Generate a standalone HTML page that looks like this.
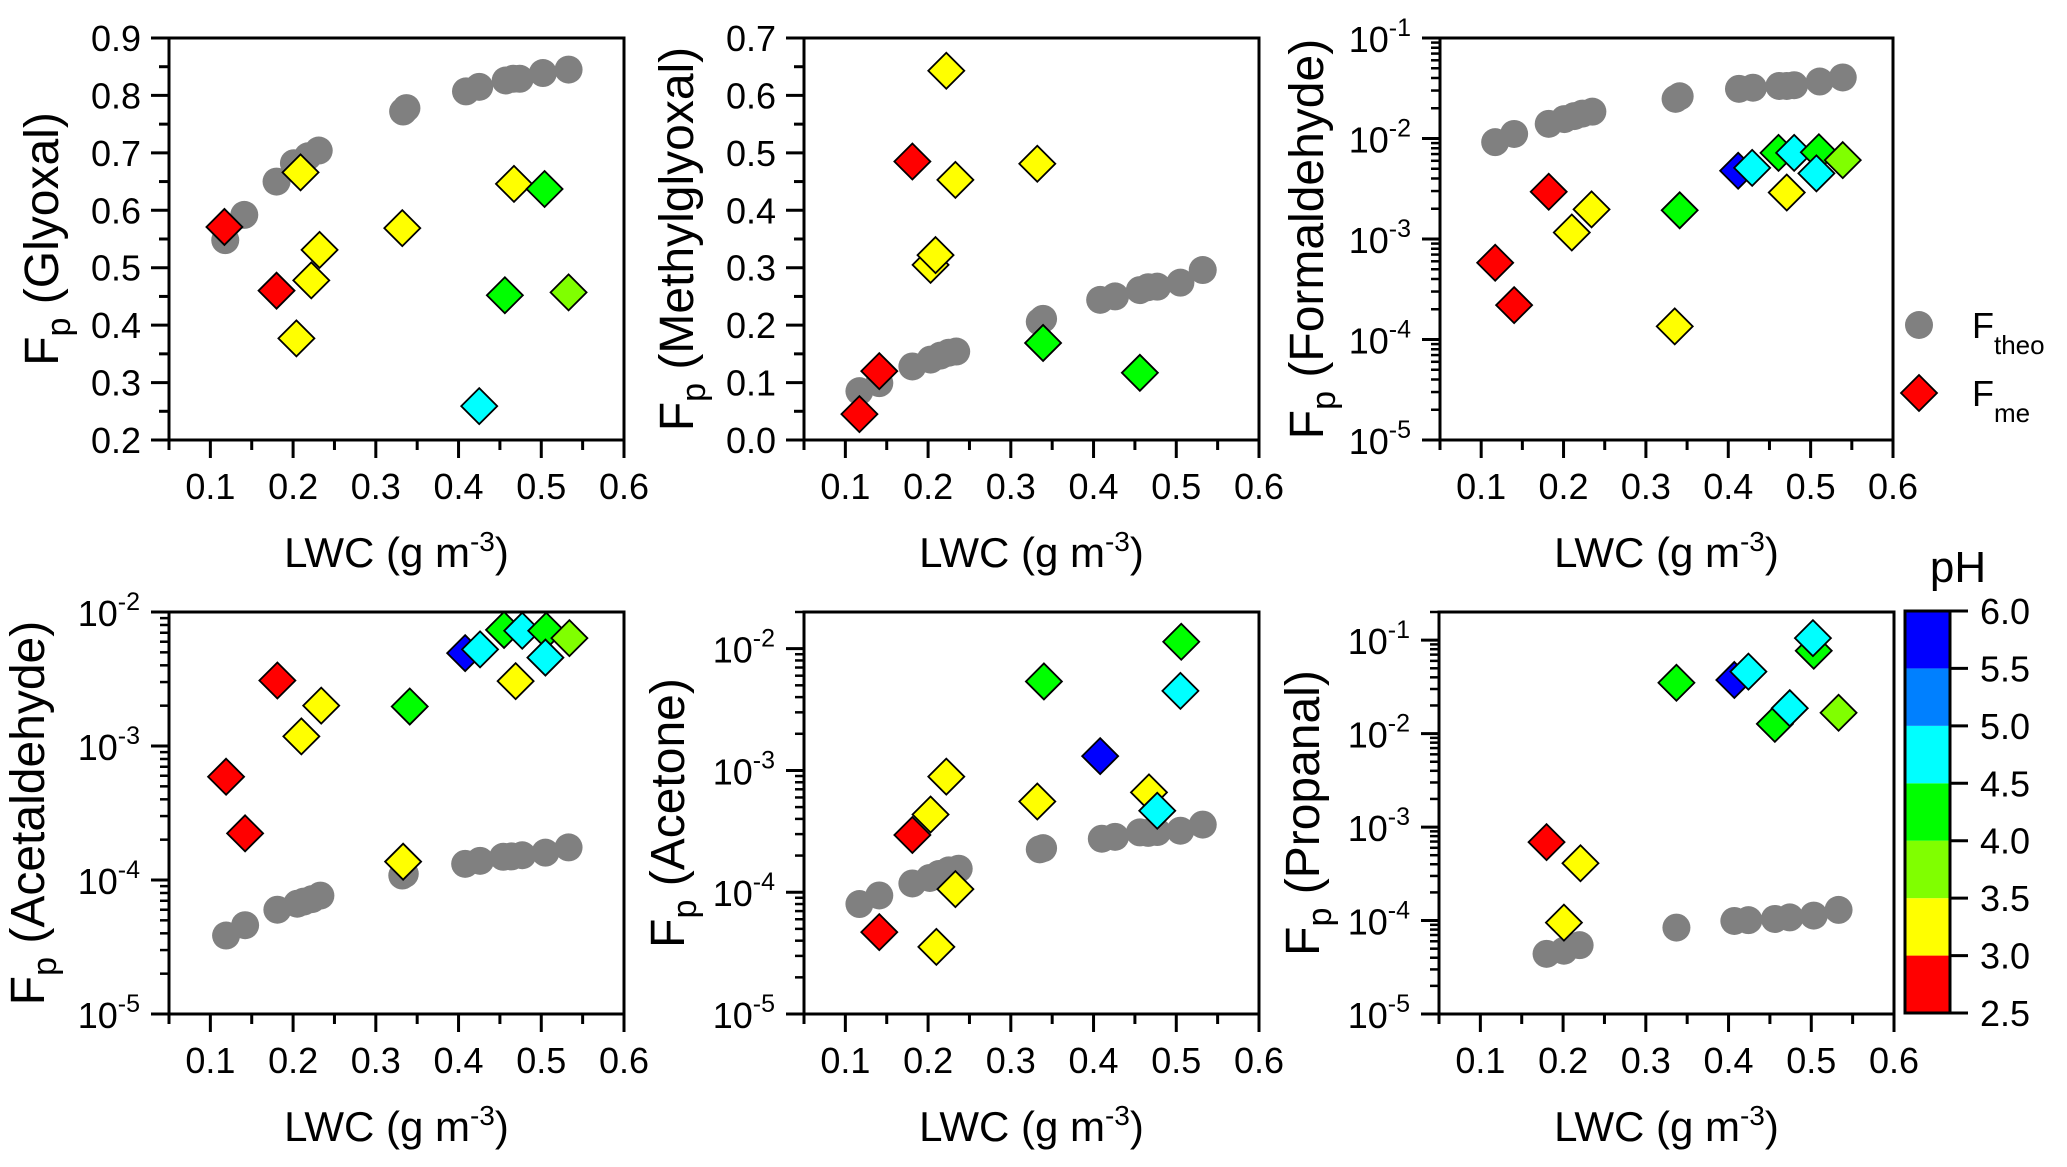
<!DOCTYPE html>
<html><head><meta charset="utf-8"><style>
html,body{margin:0;padding:0;background:#fff;}
svg{display:block;font-family:"Liberation Sans",Arial,sans-serif;}
</style></head><body>
<svg id="fig" width="2067" height="1167" viewBox="0 0 2067 1167" xmlns="http://www.w3.org/2000/svg"></svg>
<script>
// ---------- DATA ----------
const glyoxalTheoX=[0.118,0.141,0.180,0.201,0.218,0.231,0.333,0.337,0.409,0.425,0.457,0.466,0.474,0.502,0.533];
const glyoxalTheoY=[0.548,0.592,0.650,0.682,0.694,0.704,0.772,0.778,0.807,0.815,0.826,0.829,0.829,0.839,0.845];
const glyoxalMeX=[0.117,0.209,0.180,0.222,0.232,0.204,0.332,0.467,0.504,0.456,0.533,0.425];
const glyoxalMeY=[0.571,0.666,0.460,0.478,0.531,0.377,0.569,0.646,0.637,0.452,0.457,0.259];
const glyoxalPH=[2.8,3.2,2.8,3.2,3.2,3.2,3.2,3.2,4.2,4.2,3.8,4.7];

const mgTheoX=[0.117,0.141,0.181,0.203,0.215,0.225,0.234,0.335,0.339,0.408,0.426,0.456,0.466,0.477,0.505,0.532];
const mgTheoY=[0.085,0.099,0.128,0.140,0.147,0.152,0.154,0.206,0.211,0.244,0.250,0.261,0.266,0.267,0.274,0.296];
const mgMeX=[0.117,0.141,0.181,0.222,0.233,0.203,0.209,0.332,0.339,0.456];
const mgMeY=[0.045,0.120,0.485,0.643,0.453,0.305,0.322,0.481,0.169,0.117];
const mgPH=[2.8,2.8,2.8,3.2,3.2,3.2,3.2,3.2,4.2,4.2];

const fmTheoX=[0.117,0.140,0.182,0.201,0.213,0.223,0.235,0.336,0.341,0.413,0.430,0.462,0.471,0.480,0.511,0.539];
const fmTheoY=[0.0092,0.0111,0.014,0.0156,0.0167,0.0177,0.0185,0.0248,0.0263,0.0312,0.032,0.0333,0.0333,0.0339,0.0369,0.0405];
const fmMeX=[0.117,0.140,0.182,0.210,0.234,0.341,0.335,0.412,0.429,0.461,0.480,0.510,0.507,0.539,0.471];
const fmMeY=[5.8e-4,2.2e-4,2.95e-3,1.16e-3,1.97e-3,1.93e-3,1.35e-4,4.78e-3,5.1e-3,7.2e-3,7.2e-3,7.3e-3,4.5e-3,6.1e-3,2.9e-3];
const fmPH=[2.8,2.8,2.8,3.2,3.2,4.2,3.2,5.8,4.7,4.2,4.7,4.2,4.7,3.8,3.2];

const acTheoX=[0.119,0.142,0.181,0.205,0.213,0.223,0.233,0.332,0.335,0.408,0.426,0.454,0.464,0.477,0.505,0.533];
const acTheoY=[3.85e-5,4.6e-5,6.0e-5,6.65e-5,6.9e-5,7.2e-5,7.65e-5,1.08e-4,1.11e-4,1.32e-4,1.39e-4,1.49e-4,1.5e-4,1.53e-4,1.6e-4,1.75e-4];
const acMeX=[0.119,0.142,0.181,0.210,0.234,0.333,0.341,0.408,0.426,0.455,0.477,0.506,0.505,0.534,0.469];
const acMeY=[5.9e-4,2.23e-4,3.08e-3,1.18e-3,2.0e-3,1.37e-4,1.97e-3,4.93e-3,5.26e-3,7.35e-3,7.25e-3,7.25e-3,4.57e-3,6.38e-3,3.05e-3];
const acPH=[2.8,2.8,2.8,3.2,3.2,3.2,4.2,5.8,4.7,4.2,4.7,4.2,4.7,3.8,3.2];

const atTheoX=[0.117,0.141,0.181,0.202,0.213,0.225,0.237,0.335,0.339,0.410,0.426,0.456,0.466,0.477,0.505,0.532];
const atTheoY=[8.0e-5,9.4e-5,1.18e-4,1.31e-4,1.41e-4,1.51e-4,1.56e-4,2.25e-4,2.3e-4,2.75e-4,2.85e-4,3.1e-4,3.07e-4,3.12e-4,3.2e-4,3.59e-4];
const atMeX=[0.141,0.181,0.203,0.222,0.233,0.210,0.332,0.340,0.408,0.467,0.477,0.506,0.505];
const atMeY=[4.7e-5,2.95e-4,4.35e-4,8.9e-4,1.06e-4,3.56e-5,5.56e-4,5.38e-3,1.31e-3,6.6e-4,4.67e-4,1.14e-2,4.5e-3];
const atPH=[2.8,2.8,3.2,3.2,3.2,3.2,3.2,4.2,5.8,3.2,4.7,4.2,4.7];

const prTheoX=[0.180,0.201,0.220,0.337,0.407,0.424,0.456,0.474,0.503,0.533];
const prTheoY=[4.4e-5,4.75e-5,5.45e-5,8.4e-5,9.9e-5,1.01e-4,1.04e-4,1.08e-4,1.13e-4,1.3e-4];
const prMeX=[0.180,0.221,0.201,0.337,0.407,0.424,0.456,0.474,0.533,0.503,0.502];
const prMeY=[6.9e-4,4.1e-4,9.5e-5,3.5e-2,3.75e-2,4.6e-2,1.27e-2,1.87e-2,1.67e-2,7.7e-2,1.05e-1];
const prPH=[2.8,3.2,3.2,4.2,5.8,4.7,4.2,4.7,3.8,4.2,4.7];

const xTicks=[0.1,0.2,0.3,0.4,0.5,0.6];
const xTickLabels=["0.1","0.2","0.3","0.4","0.5","0.6"];
const glyoxalYTicks=[0.2,0.3,0.4,0.5,0.6,0.7,0.8,0.9];
const mgYTicks=[0.0,0.1,0.2,0.3,0.4,0.5,0.6,0.7];
const phTicks=[2.5,3.0,3.5,4.0,4.5,5.0,5.5,6.0];
const phColors=["#ff0000","#ffff00","#80ff00","#00ff00","#00ffff","#0080ff","#0000ff"];
const panelNames=["Glyoxal","Methylglyoxal","Formaldehyde","Acetaldehyde","Acetone","Propanal"];

// ---------- DRAWING ----------
const NS="http://www.w3.org/2000/svg";
const svg=document.getElementById('fig');
function mk(tag,attrs,parent){const e=document.createElementNS(NS,tag);for(const k in attrs)e.setAttribute(k,attrs[k]);(parent||svg).appendChild(e);return e;}
function phColor(p){let i=Math.floor((p-2.5)/0.5);i=Math.max(0,Math.min(6,i));return phColors[i];}

const panels=[
 {x0:169,x1:624,y0:38,y1:440,log:false,ymin:0.2,ymax:0.9,yt:glyoxalYTicks,tx:glyoxalTheoX,ty:glyoxalTheoY,mx:glyoxalMeX,my:glyoxalMeY,ph:glyoxalPH,toff:111},
 {x0:804,x1:1259,y0:38,y1:440,log:false,ymin:0.0,ymax:0.7,yt:mgYTicks,tx:mgTheoX,ty:mgTheoY,mx:mgMeX,my:mgMeY,ph:mgPH,toff:111},
 {x0:1440,x1:1893,y0:38,y1:440,log:true,ymin:1e-5,ymax:1e-1,tx:fmTheoX,ty:fmTheoY,mx:fmMeX,my:fmMeY,ph:fmPH,toff:117},
 {x0:169,x1:624,y0:612,y1:1014,log:true,ymin:1e-5,ymax:1e-2,tx:acTheoX,ty:acTheoY,mx:acMeX,my:acMeY,ph:acPH,toff:125},
 {x0:804,x1:1259,y0:612,y1:1014,log:true,ymin:1e-5,ymax:0.02,tx:atTheoX,ty:atTheoY,mx:atMeX,my:atMeY,ph:atPH,toff:120},
 {x0:1439,x1:1894,y0:612,y1:1014,log:true,ymin:1e-5,ymax:0.2,tx:prTheoX,ty:prTheoY,mx:prMeX,my:prMeY,ph:prPH,toff:120}
];

panels.forEach((P,pi)=>{
  const g=mk('g',{});
  
  
  const sx=v=>P.x0+(v-0.05)/0.55*(P.x1-P.x0);
  const sy=P.log?(v=>P.y1-(Math.log10(v)-Math.log10(P.ymin))/(Math.log10(P.ymax)-Math.log10(P.ymin))*(P.y1-P.y0))
                :(v=>P.y1-(v-P.ymin)/(P.ymax-P.ymin)*(P.y1-P.y0));
  const fr=mk('rect',{x:P.x0,y:P.y0,width:P.x1-P.x0,height:P.y1-P.y0,fill:'none',stroke:'#000','stroke-width':3},g);
  
  
  const xa=mk('g',{},g);
  
  
  for(let v=0.05;v<=0.601;v+=0.05){const x=sx(v);const major=Math.abs(v*10-Math.round(v*10))<0.01;
    mk('line',{x1:x,x2:x,y1:P.y1,y2:P.y1+(major?18:10),stroke:'#000','stroke-width':3},xa);}
  xTicks.forEach((v,i)=>{const t=mk('text',{x:sx(v),y:P.y1+59,'font-size':36,'text-anchor':'middle'},xa);t.textContent=xTickLabels[i];
    
    });
  const xt=mk('text',{x:(P.x0+P.x1)/2,y:P.y1+127,'font-size':42,'text-anchor':'middle'},g);
  
  
  xt.innerHTML='LWC (g m<tspan dy="-16" font-size="28">-3</tspan><tspan dy="16">)</tspan>';
  const ya=mk('g',{},g);
  
  
  if(!P.log){
    for(let v=P.ymin;v<=P.ymax+1e-6;v+=0.05){const y=sy(v);const major=Math.abs(v*10-Math.round(v*10))<0.01;
      mk('line',{x1:P.x0-(major?18:10),x2:P.x0,y1:y,y2:y,stroke:'#000','stroke-width':3},ya);}
    P.yt.forEach(v=>{const t=mk('text',{x:P.x0-28,y:sy(v)+13,'font-size':36,'text-anchor':'end'},ya);t.textContent=v.toFixed(1);
      
      });
  } else {
    const e0=Math.round(Math.log10(P.ymin));const e1=Math.ceil(Math.log10(P.ymax));
    for(let e=e0;e<=e1;e++){for(let m=1;m<10;m++){const v=m*Math.pow(10,e);if(v<P.ymin*0.999||v>P.ymax*1.001)continue;const y=sy(v);
      mk('line',{x1:P.x0-(m===1?18:9),x2:P.x0,y1:y,y2:y,stroke:'#000','stroke-width':m===1?3:2.5},ya);}
      const v=Math.pow(10,e);if(v<P.ymin*0.999||v>P.ymax*1.001)continue;
      const t=mk('text',{x:P.x0-29,y:sy(v)+14,'font-size':36,'text-anchor':'end'},ya);
      
      
      t.innerHTML='10<tspan dy="-16" font-size="25">'+e+'</tspan>';}
  }
  const cy=(P.y0+P.y1)/2, tx=P.x0-P.toff;
  const yt=mk('text',{x:tx,y:cy,'font-size':48,'text-anchor':'middle',transform:'rotate(-90 '+tx+' '+cy+')'},g);
  
  
  yt.innerHTML='F<tspan dy="12" font-size="34">p</tspan><tspan dy="-12"> ('+panelNames[pi]+')</tspan>';
  const gs=mk('g',{},g);
  
  
  P.tx.forEach((v,i)=>{const c=mk('circle',{cx:sx(v),cy:sy(P.ty[i]),r:14,fill:'#808080'},gs);
    
    });
  const gm=mk('g',{},g);
  
  
  P.mx.forEach((v,i)=>{const x=sx(v),y=sy(P.my[i]),h=18;
    const d=mk('polygon',{points:`${x},${y-h} ${x+h},${y} ${x},${y+h} ${x-h},${y}`,fill:phColor(P.ph[i]),stroke:'#000','stroke-width':1.8},gm);
    
    });
});

const lg=mk('g',{});


const lc=mk('circle',{cx:1919,cy:325,r:14,fill:'#808080'},lg);


const lt1=mk('text',{x:1972,y:338,'font-size':36},lg);


lt1.innerHTML='F<tspan dy="16" font-size="26">theo</tspan>';
const ld=mk('polygon',{points:'1919,375 1937,393 1919,411 1901,393',fill:'#ff0000',stroke:'#000','stroke-width':1.8},lg);


const lt2=mk('text',{x:1972,y:406,'font-size':36},lg);


lt2.innerHTML='F<tspan dy="16" font-size="26">me</tspan>';

const cb=mk('g',{});


const cbx=1905,cbw=45,cby0=611,cby1=1013;
const sph=p=>cby1-(p-2.5)/3.5*(cby1-cby0);
phColors.forEach((c,i)=>{const r=mk('rect',{x:cbx,y:sph(phTicks[i+1]),width:cbw,height:sph(phTicks[i])-sph(phTicks[i+1]),fill:c},cb);
  
  });
mk('rect',{x:cbx,y:cby0,width:cbw,height:cby1-cby0,fill:'none',stroke:'#000','stroke-width':3},cb);
phTicks.forEach(p=>{mk('line',{x1:cbx+cbw,x2:cbx+cbw+18,y1:sph(p),y2:sph(p),stroke:'#000','stroke-width':3},cb);
  const t=mk('text',{x:1980,y:sph(p)+13,'font-size':36},cb);t.textContent=p.toFixed(1);
  
  });
const ph=mk('text',{x:1958,y:582,'font-size':44,'text-anchor':'middle'},cb);


ph.textContent='pH';
</script>
</body></html>
